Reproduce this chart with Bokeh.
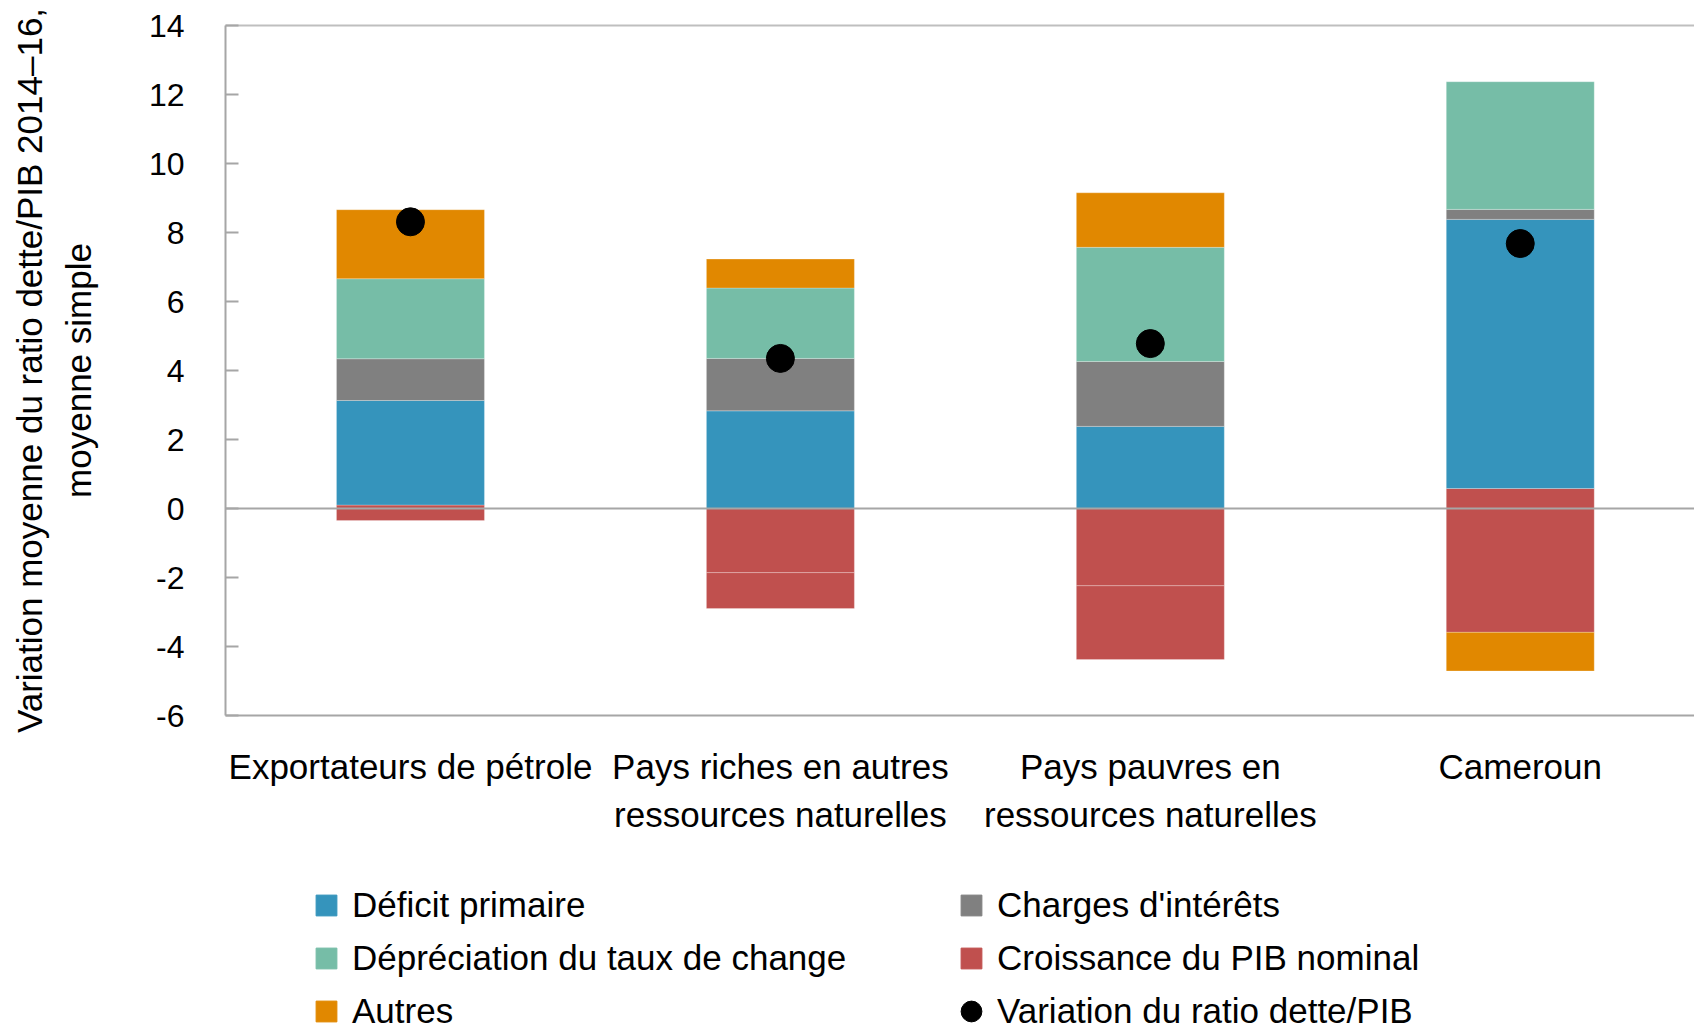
import numpy as np
from bokeh.plotting import figure
from bokeh.layouts import column
from bokeh.models import Range1d, FixedTicker, Span, Legend, LegendItem, LinearAxis
from bokeh.embed import file_html
from bokeh.resources import INLINE

# ---- data ----
categories = ["Exportateurs de pétrole",
              "Pays riches en autres\nressources naturelles",
              "Pays pauvres en\nressources naturelles",
              "Cameroun"]
croissance_pib_a = [0.10, -1.86, -2.24, 0.58]
croissance_pib_b = [-0.35, -1.04, -2.14, -3.59]
deficit_primaire = [3.03, 2.83, 2.38, 7.80]
charges_interets = [1.21, 1.52, 1.88, 0.29]
depreciation_change = [2.32, 2.04, 3.31, 3.70]
autres = [2.00, 0.84, 1.58, -1.12]
variation_ratio = [8.31, 4.35, 4.78, 7.68]
y_ticks = [-6, -4, -2, 0, 2, 4, 6, 8, 10, 12, 14]

labels = {
    "deficit": "Déficit primaire",
    "charges": "Charges d'intérêts",
    "depreciation": "Dépréciation du taux de change",
    "croissance": "Croissance du PIB nominal",
    "autres": "Autres",
    "variation": "Variation du ratio dette/PIB",
}

BLUE = "#3594BC"
GREEN = "#76BDA7"
GRAY = "#808080"
RED = "#C0504E"
ORANGE = "#E18800"
AXIS = "#A6A6A6"
FONT = "Liberation Sans"

xs = list(range(len(categories)))
W = 1694

p = figure(width=W, height=870,
           x_range=Range1d(-0.5, 3.471), y_range=Range1d(-6, 14),
           output_backend="svg", toolbar_location=None,
           min_border_left=225, min_border_right=0,
           min_border_top=25, min_border_bottom=155)
p.grid.visible = False
p.outline_line_color = None
xa = p.below[0]
ya = p.left[0]

series = [
    ("croissance_a", croissance_pib_a, RED),
    ("croissance_b", croissance_pib_b, RED),
    ("deficit", deficit_primaire, BLUE),
    ("charges", charges_interets, GRAY),
    ("depreciation", depreciation_change, GREEN),
    ("autres", autres, ORANGE),
]
pos = np.zeros(len(xs))
neg = np.zeros(len(xs))
for key, vals, color in series:
    v = np.array(vals, dtype=float)
    bottom = np.where(v >= 0, pos, neg)
    top = bottom + v
    pos = np.where(v >= 0, top, pos)
    neg = np.where(v < 0, top, neg)
    p.vbar(x=xs, bottom=bottom, top=top, width=0.4, fill_color=color,
           line_color="white", line_alpha=0.25, line_width=1)

p.add_layout(Span(location=0, dimension="width", line_color=AXIS, line_width=2))

p.scatter(x=xs, y=variation_ratio, size=28, color="black")

# top frame line
top_axis = LinearAxis(ticker=FixedTicker(ticks=[]),
                      axis_line_color="#BFBFBF", axis_line_width=2,
                      major_tick_line_color=None, minor_tick_line_color=None,
                      major_label_standoff=0)
p.add_layout(top_axis, "above")

# y axis
ya.ticker = FixedTicker(ticks=y_ticks)
ya.major_label_overrides = {t: str(t) for t in y_ticks}
ya.axis_line_color = AXIS
ya.axis_line_width = 2
ya.major_tick_line_color = AXIS
ya.major_tick_line_width = 2
ya.major_tick_in = 13
ya.major_tick_out = 0
ya.minor_tick_line_color = None
ya.major_label_text_font = FONT
ya.major_label_text_font_size = "32px"
ya.major_label_text_color = "black"
ya.major_label_standoff = 41
ya.axis_label = "Variation moyenne du ratio dette/PIB 2014–16,\nmoyenne simple"
ya.axis_label_text_font = FONT
ya.axis_label_text_font_size = "35px"
ya.axis_label_text_font_style = "normal"
ya.axis_label_text_color = "black"
ya.axis_label_text_line_height = 1.25
ya.axis_label_standoff = 48

# x axis
xa.ticker = FixedTicker(ticks=xs)
xa.major_label_overrides = {i: c for i, c in zip(xs, categories)}
xa.axis_line_color = AXIS
xa.axis_line_width = 2
xa.major_tick_line_color = None
xa.minor_tick_line_color = None
xa.major_label_text_font = FONT
xa.major_label_text_font_size = "35px"
xa.major_label_text_color = "black"
xa.major_label_text_line_height = 1.24
xa.major_label_standoff = 25

# ---- legend figure ----
lf = figure(width=W, height=160, x_range=Range1d(0, 1), y_range=Range1d(0, 1),
            output_backend="svg", toolbar_location=None, min_border=0)
lf.axis.visible = False
lf.grid.visible = False
lf.outline_line_color = None

nan_y = [float("nan")] * len(xs)
proxy = {}
for key, color in [("deficit", BLUE), ("charges", GRAY), ("depreciation", GREEN),
                   ("croissance", RED), ("autres", ORANGE)]:
    proxy[key] = lf.scatter(x=xs, y=nan_y, marker="square", size=21, color=color)
proxy["variation"] = lf.scatter(x=xs, y=nan_y, marker="circle", size=21, color="black")

def make_legend(keys, loc, standoff):
    lg = Legend(items=[LegendItem(label=labels[k], renderers=[proxy[k]]) for k in keys],
                location=loc, orientation="vertical")
    lg.padding = 0
    lg.margin = 0
    lg.spacing = 1
    lg.glyph_width = 52
    lg.glyph_height = 52
    lg.label_height = 52
    lg.label_standoff = standoff
    lg.border_line_color = None
    lg.background_fill_alpha = 0
    lg.label_text_font = FONT
    lg.label_text_font_size = "35px"
    lg.label_text_color = "black"
    return lg

lf.add_layout(make_legend(["deficit", "depreciation", "autres"], (75, -7), -10))
lf.add_layout(make_legend(["charges", "croissance", "variation"], (720, -7), -9))

layout = column(p, lf, spacing=0)
open("out.html", "w").write(file_html(layout, INLINE))
